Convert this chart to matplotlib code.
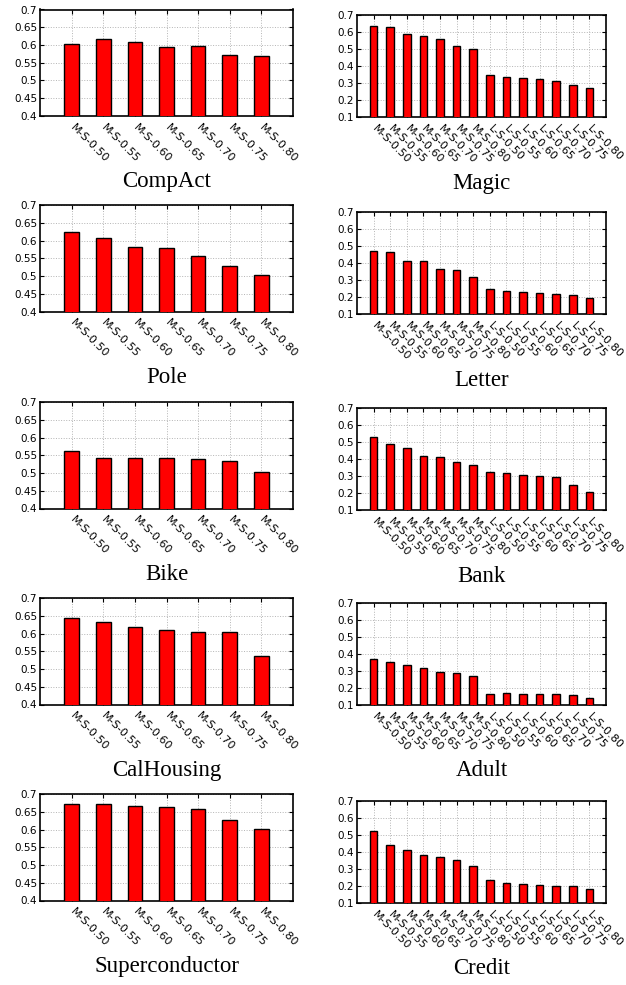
import matplotlib
matplotlib.use('Agg')
import matplotlib.pyplot as plt
import numpy as np

matplotlib.rcParams['xtick.labelsize'] = 8
matplotlib.rcParams['ytick.labelsize'] = 7.5

# Tick labels
labels_m = ['M-S-0.50', 'M-S-0.55', 'M-S-0.60', 'M-S-0.65', 'M-S-0.70', 'M-S-0.75', 'M-S-0.80']
labels_l = ['L-S-0.50', 'L-S-0.55', 'L-S-0.60', 'L-S-0.65', 'L-S-0.70', 'L-S-0.75', 'L-S-0.80']
labels_ml = labels_m + labels_l

# Left column (7 bars, M-S only)
compact = [0.603, 0.617, 0.608, 0.593, 0.596, 0.573, 0.568]
pole = [0.623, 0.608, 0.583, 0.578, 0.556, 0.529, 0.502]
bike = [0.562, 0.543, 0.542, 0.542, 0.540, 0.533, 0.504]
calhousing = [0.645, 0.633, 0.617, 0.610, 0.605, 0.603, 0.537]
superconductor = [0.673, 0.671, 0.666, 0.663, 0.657, 0.626, 0.601]

# Right column (14 bars, M-S then L-S)
magic = [0.634, 0.630, 0.589, 0.579, 0.561, 0.520, 0.499,
         0.345, 0.337, 0.331, 0.321, 0.311, 0.286, 0.272]
letter = [0.468, 0.462, 0.413, 0.409, 0.367, 0.359, 0.320,
          0.249, 0.233, 0.229, 0.223, 0.219, 0.211, 0.195]
bank = [0.527, 0.490, 0.465, 0.420, 0.414, 0.384, 0.363,
        0.324, 0.320, 0.306, 0.300, 0.294, 0.245, 0.208]
adult = [0.373, 0.352, 0.336, 0.317, 0.295, 0.288, 0.270,
         0.165, 0.173, 0.167, 0.165, 0.167, 0.157, 0.142]
credit = [0.525, 0.443, 0.412, 0.382, 0.373, 0.351, 0.318,
          0.235, 0.220, 0.214, 0.208, 0.202, 0.198, 0.184]

left_names = ['CompAct', 'Pole', 'Bike', 'CalHousing', 'Superconductor']
left_data = [compact, pole, bike, calhousing, superconductor]
right_names = ['Magic', 'Letter', 'Bank', 'Adult', 'Credit']
right_data = [magic, letter, bank, adult, credit]

W, H = 626, 985
fig = plt.figure(figsize=(W/100, H/100), dpi=100)

# pixel layout: top edge of each axes
left_tops = [9.5, 205, 402, 598, 794]
right_tops = [15, 212, 408, 603, 801]


def _panel(px, top, w, h, vals, labels, name, ylim, yticks):
    ax = fig.add_axes([px/W, 1 - (top + h)/H, w/W, h/H])
    x = np.arange(len(vals))
    ax.bar(x, vals, width=0.46, color='#ff0000', edgecolor='black',
           linewidth=1.0, zorder=3)
    ax.set_xlim(-1, len(vals))
    ax.set_ylim(*ylim)
    ax.set_yticks(yticks)
    ax.set_yticklabels(['%g' % t for t in yticks])
    ax.set_xticks(x)
    ax.set_xticklabels(labels, rotation=-45, ha='left', va='center',
                       rotation_mode='anchor')
    ax.tick_params(axis='both', direction='in', length=3, width=0.8,
                   top=True, right=True, pad=2)
    ax.tick_params(axis='x', pad=7)
    ax.grid(True, linestyle=':', color='#b4b4b4', linewidth=0.7, zorder=0)
    ax.set_axisbelow(True)
    for s in ax.spines.values():
        s.set_linewidth(1.2)
    ax.set_xlabel(name, family='Liberation Serif', fontsize=16.5)
    ax.xaxis.set_label_coords(0.5, -66/h)
    ax.xaxis.label.set_va('center')
    return ax


for top, vals, name in zip(left_tops, left_data, left_names):
    _panel(40, top, 253, 106.5, vals, labels_m, name, (0.4, 0.7),
           [0.4, 0.45, 0.5, 0.55, 0.6, 0.65, 0.7])

for top, vals, name in zip(right_tops, right_data, right_names):
    _panel(357, top, 249, 102, vals, labels_ml, name, (0.1, 0.7),
           [0.1, 0.2, 0.3, 0.4, 0.5, 0.6, 0.7])

fig.savefig('out.png', dpi=100)
